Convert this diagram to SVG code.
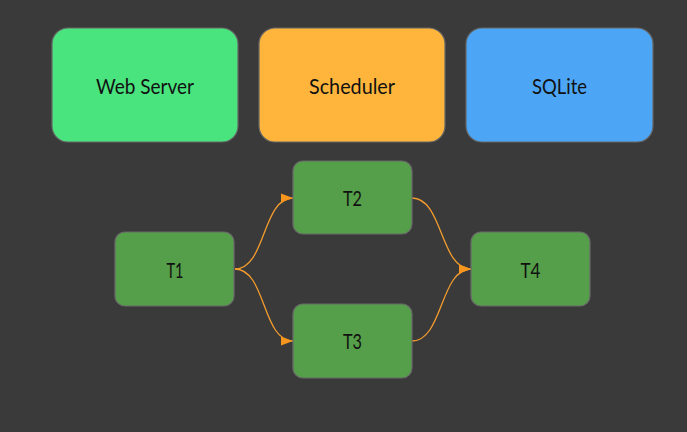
<svg xmlns="http://www.w3.org/2000/svg" width="687" height="432" viewBox="0 0 687 432">
<defs>
<style>
.big{stroke:#666;stroke-width:1.2}
.task{fill:#559e4a;stroke:#6a6a6a;stroke-width:1.2}
.lbl{font-family:"Lato","DejaVu Sans","Liberation Sans",sans-serif;font-weight:400;font-size:22px;fill:#111;text-anchor:middle}
.edge{fill:none;stroke:#f39c2e;stroke-width:1.3}
</style>
<marker id="arr" viewBox="0 0 12 12" refX="12" refY="6" markerWidth="12" markerHeight="12" markerUnits="userSpaceOnUse" orient="auto">
<path d="M0,1.5 L12,6 L0,10.5 z" fill="#f7961f"/>
</marker>
</defs>
<rect width="687" height="432" fill="#3a3a3a"/>
<g id="web-server"><rect class="big" x="52" y="28" width="186" height="114" rx="16" fill="#4ae47f"/><text class="lbl" x="145" y="94" textLength="98" lengthAdjust="spacingAndGlyphs">Web Server</text></g>
<g id="scheduler"><rect class="big" x="259" y="28" width="186" height="114" rx="16" fill="#ffb53c"/><text class="lbl" x="352" y="94" textLength="86" lengthAdjust="spacingAndGlyphs">Scheduler</text></g>
<g id="sqlite"><rect class="big" x="466" y="28" width="187" height="114" rx="16" fill="#4da6f5"/><text class="lbl" x="559.5" y="94" textLength="55" lengthAdjust="spacingAndGlyphs">SQLite</text></g>
<g id="connectors">
<path class="edge" marker-end="url(#arr)" d="M235,269 C266,269 262,198 293,198"/>
<path class="edge" marker-end="url(#arr)" d="M235,269 C266,269 262,341 293,341"/>
<path class="edge" marker-end="url(#arr)" d="M412,198 C443,198 440,269 471,269"/>
<path class="edge" marker-end="url(#arr)" d="M412,341 C443,341 440,269 471,269"/>
</g>
<g id="t1"><rect class="task" x="115" y="232" width="119" height="74" rx="10"/><text class="lbl" x="175" y="278" textLength="17" lengthAdjust="spacingAndGlyphs">T1</text></g>
<g id="t2"><rect class="task" x="293" y="161" width="119" height="73" rx="10"/><text class="lbl" x="352.5" y="206" textLength="19" lengthAdjust="spacingAndGlyphs">T2</text></g>
<g id="t3"><rect class="task" x="293" y="304" width="119" height="74" rx="10"/><text class="lbl" x="352.5" y="349" textLength="19" lengthAdjust="spacingAndGlyphs">T3</text></g>
<g id="t4"><rect class="task" x="471" y="232" width="119" height="74" rx="10"/><text class="lbl" x="530.5" y="278" textLength="20" lengthAdjust="spacingAndGlyphs">T4</text></g>
</svg>
